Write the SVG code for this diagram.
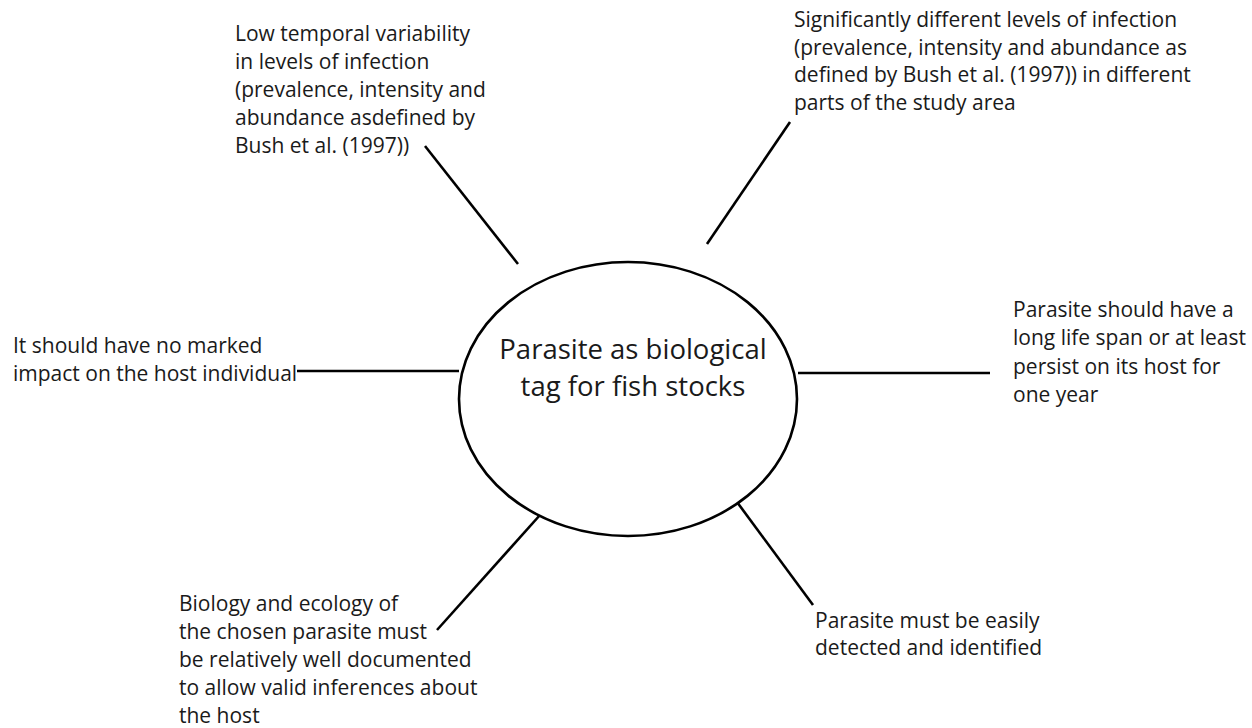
<svg xmlns="http://www.w3.org/2000/svg" width="1252" height="728" viewBox="0 0 1252 728">
<style>
text{font-family:"Open Sans","Noto Sans","DejaVu Sans",sans-serif;font-size:21px;fill:#1a1a1a}
.c{font-size:27.5px;text-anchor:middle}
.ln{stroke:#000;stroke-width:2.6;fill:none}
</style>
<rect width="1252" height="728" fill="#fff"/>
<g id="connectors">
<line class="ln" x1="425" y1="146" x2="518" y2="264"/>
<line class="ln" x1="790" y1="122" x2="707" y2="244"/>
<line class="ln" x1="297" y1="371" x2="459" y2="371"/>
<line class="ln" x1="798" y1="373" x2="990" y2="373"/>
<line class="ln" x1="437" y1="630" x2="540" y2="515"/>
<line class="ln" x1="737" y1="502" x2="813" y2="605"/>
</g>
<g id="center">
<ellipse cx="628" cy="399" rx="169" ry="137" fill="#fff" stroke="#000" stroke-width="2.6"/>
<text class="c" x="633" y="359">Parasite as biological</text>
<text class="c" x="633" y="396">tag for fish stocks</text>
</g>
<g id="n-top-left">
<text x="235" y="41">Low temporal variability</text>
<text x="235" y="69">in levels of infection</text>
<text x="235" y="97">(prevalence, intensity and</text>
<text x="235" y="125">abundance asdefined by</text>
<text x="235" y="153">Bush et al. (1997))</text>
</g>
<g id="n-top-right">
<text x="794" y="27">Significantly different levels of infection</text>
<text x="794" y="55">(prevalence, intensity and abundance as</text>
<text x="794" y="82">defined by Bush et al. (1997)) in different</text>
<text x="794" y="110">parts of the study area</text>
</g>
<g id="n-left">
<text x="13" y="353">It should have no marked</text>
<text x="13" y="381">impact on the host individual</text>
</g>
<g id="n-right">
<text x="1013" y="317">Parasite should have a</text>
<text x="1013" y="345">long life span or at least</text>
<text x="1013" y="374">persist on its host for</text>
<text x="1013" y="402">one year</text>
</g>
<g id="n-bottom-left">
<text x="179" y="611">Biology and ecology of</text>
<text x="179" y="639">the chosen parasite must</text>
<text x="179" y="667">be relatively well documented</text>
<text x="179" y="695">to allow valid inferences about</text>
<text x="179" y="723">the host</text>
</g>
<g id="n-bottom-right">
<text x="815" y="628">Parasite must be easily</text>
<text x="815" y="655">detected and identified</text>
</g>
</svg>
